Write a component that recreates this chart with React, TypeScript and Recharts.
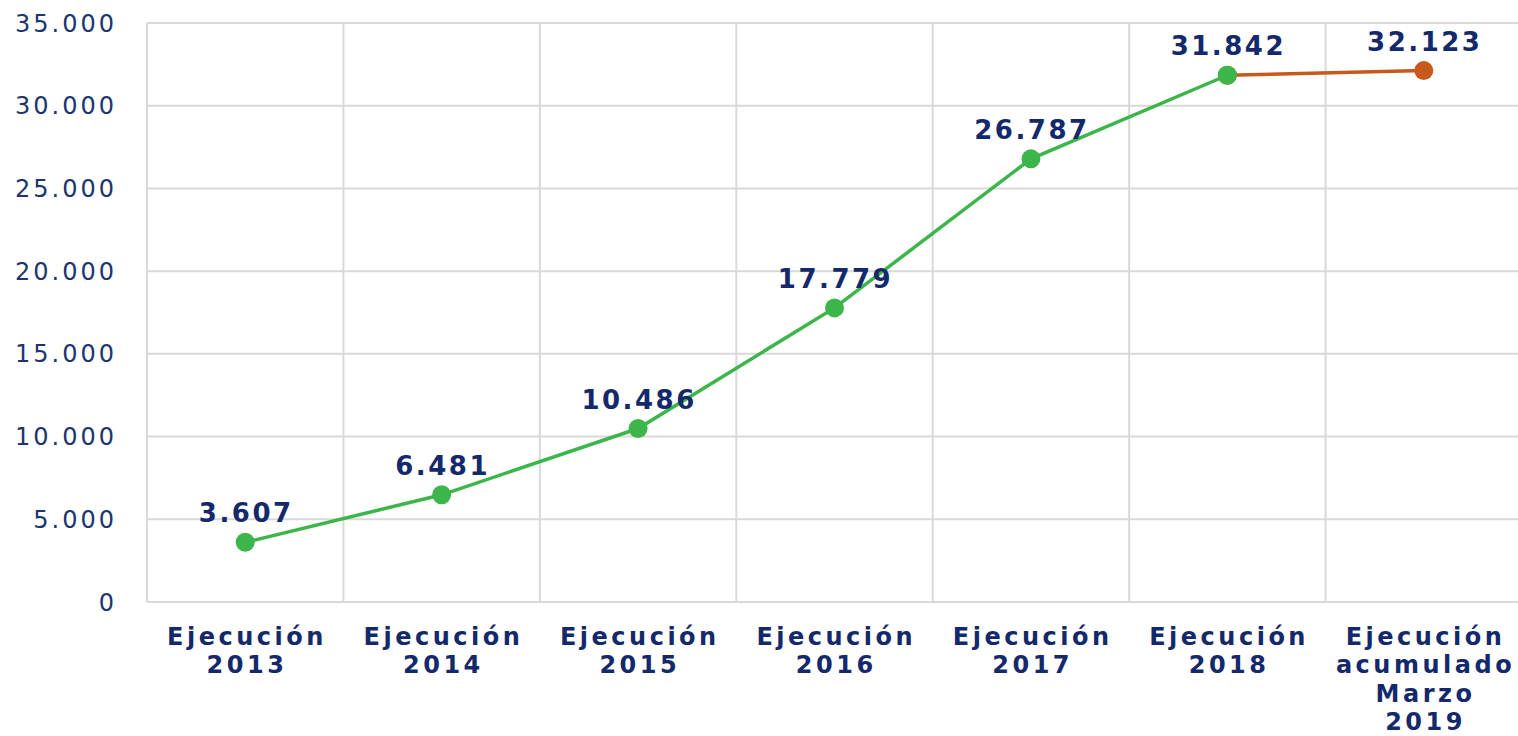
import React from "react";
import { LineChart, Line, XAxis, YAxis, CartesianGrid, LabelList } from "recharts";

const categories = [
  "Ejecución\n2013",
  "Ejecución\n2014",
  "Ejecución\n2015",
  "Ejecución\n2016",
  "Ejecución\n2017",
  "Ejecución\n2018",
  "Ejecución\nacumulado\nMarzo\n2019",
];
const values = [3607, 6481, 10486, 17779, 26787, 31842, 32123];
const yTicks = [0, 5000, 10000, 15000, 20000, 25000, 30000, 35000];
const lastActualIndex = 5;

const NAVY = "#14296b";
const GREEN = "#3cb64b";
const ORANGE = "#c8581b";
const GRID = "#d9d9d9";
const FONT = "'DejaVu Sans', Verdana, sans-serif";

const fmt = (v: number) => {
  const s = String(Math.round(v));
  return s.replace(/\B(?=(\d{3})+(?!\d))/g, ".");
};

const rows = categories.map((c, i) => ({
  x: i + 0.5,
  name: c,
  green: i <= lastActualIndex ? values[i] : null,
  orange: i >= lastActualIndex ? values[i] : null,
}));
const centerTicks = categories.map((_, i) => i + 0.5);
const boundaryTicks = [...categories.map((_, i) => i), categories.length];

const XTick = (props: any) => {
  const { x, y, payload } = props;
  const idx = Math.floor(payload.value);
  const lines = (categories[idx] || "").split("\n");
  return (
    <text
      x={x}
      y={y}
      textAnchor="middle"
      fill={NAVY}
      fontFamily={FONT}
      fontWeight="bold"
      fontSize={24}
      letterSpacing={3.5}
    >
      {lines.map((l, i) => (
        <tspan key={i} x={x + 1.75} dy={i === 0 ? 43 : 28.3}>
          {l}
        </tspan>
      ))}
    </text>
  );
};

const makeLabel = (allow: (i: number) => boolean) => (props: any) => {
  const { x, y, value, index } = props;
  if (value == null || !allow(index)) return null;
  return (
    <text
      x={x + 1}
      y={y - 20}
      textAnchor="middle"
      fill={NAVY}
      fontFamily={FONT}
      fontWeight="bold"
      fontSize={26}
      letterSpacing={2.5}
    >
      {fmt(value)}
    </text>
  );
};

export default function App() {
  return (
    <div style={{ paddingLeft: 8, paddingTop: 8, width: 1510, height: 728 }}>
      <style>{"html,body{margin:0;padding:0;overflow:hidden;}"}</style>
      <LineChart
        width={1510}
        height={728}
        data={rows}
        margin={{ top: 15, right: -4, bottom: 0, left: 0 }}
      >
        <CartesianGrid
          xAxisId="grid"
          stroke={GRID}
          strokeWidth={2}
          horizontal={true}
          vertical={true}
        />
        <XAxis
          dataKey="x"
          type="number"
          domain={[0, categories.length]}
          ticks={centerTicks}
          interval={0}
          tick={<XTick />}
          tickLine={false}
          axisLine={false}
          tickSize={0}
          tickMargin={0}
          height={134}
        />
        <XAxis
          xAxisId="grid"
          dataKey="x"
          type="number"
          domain={[0, categories.length]}
          ticks={boundaryTicks}
          interval={0}
          hide
        />
        <YAxis
          domain={[0, 35000]}
          ticks={yTicks}
          interval={0}
          tickFormatter={fmt}
          tickLine={false}
          axisLine={false}
          tickSize={0}
          tickMargin={30}
          width={139}
          tick={{ fill: "#1d356f", fontSize: 24, fontFamily: FONT, letterSpacing: 3 }}
        />
        <Line
          dataKey="orange"
          stroke={ORANGE}
          strokeWidth={3.5}
          dot={{ r: 9.5, fill: ORANGE, stroke: "none" }}
          isAnimationActive={false}
          connectNulls={false}
        >
          <LabelList dataKey="orange" content={makeLabel((i) => i > lastActualIndex)} />
        </Line>
        <Line
          dataKey="green"
          stroke={GREEN}
          strokeWidth={3.5}
          dot={{ r: 9.5, fill: GREEN, stroke: "none" }}
          isAnimationActive={false}
          connectNulls={false}
        >
          <LabelList dataKey="green" content={makeLabel(() => true)} />
        </Line>
      </LineChart>
    </div>
  );
}
